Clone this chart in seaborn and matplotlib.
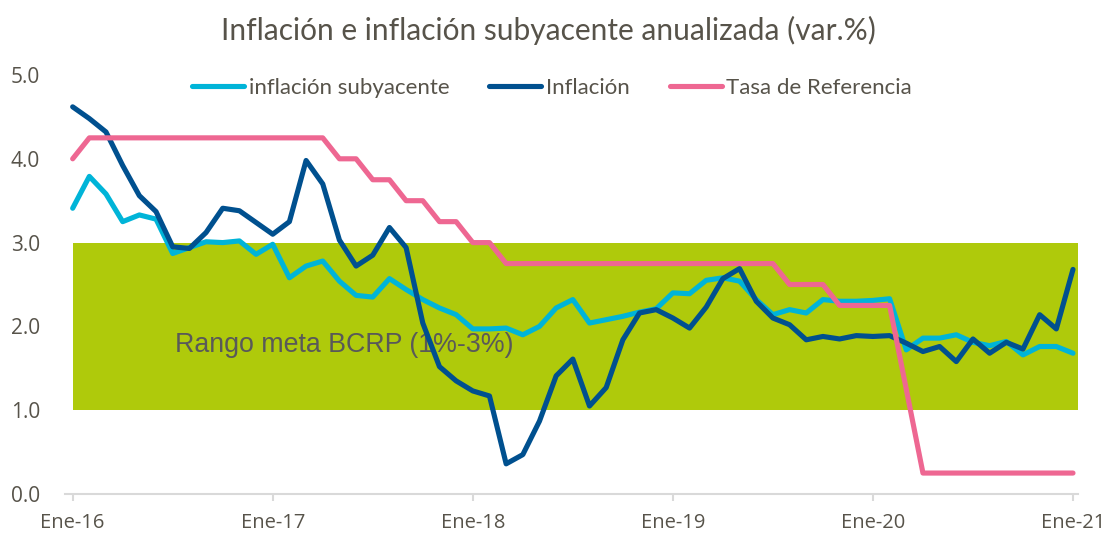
import numpy as np
import pandas as pd
import matplotlib
matplotlib.use("Agg")
import matplotlib.pyplot as plt
import seaborn as sns

# monthly data, Ene-16 .. Ene-21
meses = pd.date_range("2016-01-01", "2021-01-01", freq="MS")
tick_labels = ["Ene-16", "Ene-17", "Ene-18", "Ene-19", "Ene-20", "Ene-21"]

inflacion = [4.62, 4.48, 4.32, 3.92, 3.56, 3.37, 2.95, 2.93, 3.12, 3.41, 3.38, 3.24,
             3.10, 3.25, 3.98, 3.70, 3.03, 2.72, 2.85, 3.18, 2.94, 2.04, 1.52, 1.35,
             1.23, 1.17, 0.36, 0.47, 0.87, 1.41, 1.61, 1.05, 1.27, 1.84, 2.16, 2.20,
             2.10, 1.98, 2.23, 2.57, 2.69, 2.30, 2.10, 2.02, 1.84, 1.88, 1.85, 1.89,
             1.88, 1.89, 1.80, 1.70, 1.76, 1.58, 1.85, 1.68, 1.81, 1.73, 2.14, 1.97,
             2.68]
subyacente = [3.41, 3.79, 3.58, 3.25, 3.33, 3.28, 2.87, 2.94, 3.01, 3.00, 3.02, 2.86,
              2.98, 2.58, 2.72, 2.78, 2.54, 2.37, 2.35, 2.57, 2.44, 2.32, 2.22, 2.14,
              1.97, 1.97, 1.98, 1.90, 2.00, 2.22, 2.32, 2.04, 2.08, 2.12, 2.17, 2.21,
              2.40, 2.39, 2.55, 2.58, 2.54, 2.32, 2.14, 2.20, 2.16, 2.32, 2.30, 2.30,
              2.31, 2.33, 1.72, 1.86, 1.86, 1.90, 1.81, 1.77, 1.82, 1.66, 1.76, 1.76,
              1.68]
tasa_ref = [4.00] + [4.25] * 15 + [4.00, 4.00, 3.75, 3.75, 3.50, 3.50, 3.25, 3.25,
            3.00, 3.00] + [2.75] * 17 + [2.50] * 3 + [2.25] * 4 + [1.25] + [0.25] * 10

meta_lo, meta_hi = 1.0, 3.0

df = pd.DataFrame({"mes": meses, "inflación subyacente": subyacente,
                   "Inflación": inflacion, "Tasa de Referencia": tasa_ref})
df["i"] = np.arange(len(df))

sns.set_theme(style="white")
plt.rcParams["font.family"] = ["Lato", "DejaVu Sans"]
gris = "#57534A"
colores = {"inflación subyacente": "#00B4D8", "Inflación": "#00508F",
           "Tasa de Referencia": "#EE6792"}

fig = plt.figure(figsize=(11.1, 5.36), dpi=100)
ax = fig.add_axes([65 / 1110, 1 - 494 / 536, (1078 - 65) / 1110, (494 - 75) / 536])

# rango meta
x_fin = 60.3
ax.fill_between([0, x_fin], meta_lo, meta_hi, color="#AFCA0B", lw=0, zorder=1)
ax.text(16.3, 1.78, "Rango meta BCRP (1%-3%)", ha="center", va="center",
        fontsize=19.3, color="#595959", family=["Liberation Sans"], zorder=2)

for serie in ["inflación subyacente", "Inflación", "Tasa de Referencia"]:
    sns.lineplot(data=df, x="i", y=serie, ax=ax, color=colores[serie], lw=3.7,
                 label=serie, zorder=3, solid_capstyle="round")

ax.set_xlim(-0.46, x_fin)
ax.set_ylim(0, 5)
ax.set_yticks(np.arange(0, 5.1, 1.0))
ax.set_yticklabels([f"{v:.1f}" for v in np.arange(0, 5.1, 1.0)])
ax.set_xticks(df["i"][::12])
ax.set_xticklabels(tick_labels)
ax.set_xlabel("")
ax.set_ylabel("")
for s in ["left", "top", "right"]:
    ax.spines[s].set_visible(False)
ax.spines["bottom"].set_color("#D9D9D9")
ax.spines["bottom"].set_linewidth(1.5)
ax.tick_params(axis="x", length=5, width=1.5, color="#D9D9D9", pad=9,
               labelsize=14.5, labelcolor=gris, bottom=True)
ax.tick_params(axis="y", length=0, pad=18, labelsize=15, labelcolor=gris)
for t in ax.get_xticklabels() + ax.get_yticklabels():
    t.set_family(["Open Sans", "DejaVu Sans"])

ax.legend(loc="center", bbox_to_anchor=(487 / 1013, 1.0 - 13 / 419),
          ncol=3, frameon=False, fontsize=16, handlelength=2.35,
          handletextpad=0.2, columnspacing=1.8, labelcolor=gris)

fig.suptitle("Inflación e inflación subyacente anualizada (var.%)", x=548 / 1110,
             y=1 - 30 / 536, va="center", fontsize=21.5, color=gris)

fig.savefig("out.png", dpi=100)
